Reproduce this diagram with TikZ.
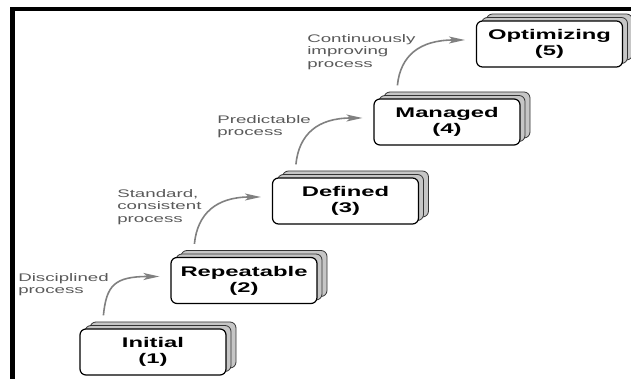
\documentclass[tikz,border=0pt]{standalone}
\usepackage{fontspec}
\usetikzlibrary{shadows,arrows.meta}
\newfontfamily\stretchfont[FakeStretch=1.7,
  BoldFont={Liberation Sans Bold}, BoldFeatures={FakeStretch=1.7}]{Liberation Sans}

\begin{document}
\begin{tikzpicture}[x=1pt,y=1pt,semithick]
      \tikzstyle{level}=[draw, rounded corners=6pt, fill=white, line width=1.2pt,
        minimum width=146pt, minimum height=46pt, align=center,
        font=\stretchfont\bfseries\fontsize{14}{16}\selectfont,
        double copy shadow={shadow xshift=5pt, shadow yshift=3.5pt,
          fill=gray!45, draw=black!80, line width=0.8pt}]
      \tikzstyle{note}=[anchor=north west, inner sep=0pt, align=left,
        text=black!65, font=\stretchfont\fontsize{11}{12.5}\selectfont]
      \tikzstyle{climb}=[draw=black!50, line width=1.6pt,
        -{Stealth[length=16pt, width=7pt, inset=4pt]}]
      \useasboundingbox (0,0) rectangle (631,379);
      \draw[line width=4.5pt] (12.5,0) -- (12.5,370) -- (631,370);
      % the five levels
      \foreach \s/\name/\x/\y in {1/Initial/153/27, 2/Repeatable/244/98.5,
          3/Defined/345.5/178, 4/Managed/447/257, 5/Optimizing/549.5/335} {
        \node[level] at (\x,\y) (l\s) {\name\\(\s)};
      }
      % curved arrows between levels
      \foreach \s in {1,...,4} {
        \pgfmathtruncatemacro\t{\s+1}
        \coordinate (from\s) at ([shift={(24,13)}]l\s.north west);
        \coordinate (to\s) at ([shift={(-11,4)}]l\t.west);
        \draw[climb] (from\s) .. controls +(3,30) and +(-45,0) .. (to\s);
      }
      \node[note] (n1) at (18,106) {Disciplined\\process};
      \node[note] (n2) at (117,190) {Standard,\\consistent\\process};
      \node[note] (n3) at (217,264) {Predictable\\process};
      \node[note] (n4) at (307,345) {Continuously\\improving\\process};
    \end{tikzpicture}
\end{document}
